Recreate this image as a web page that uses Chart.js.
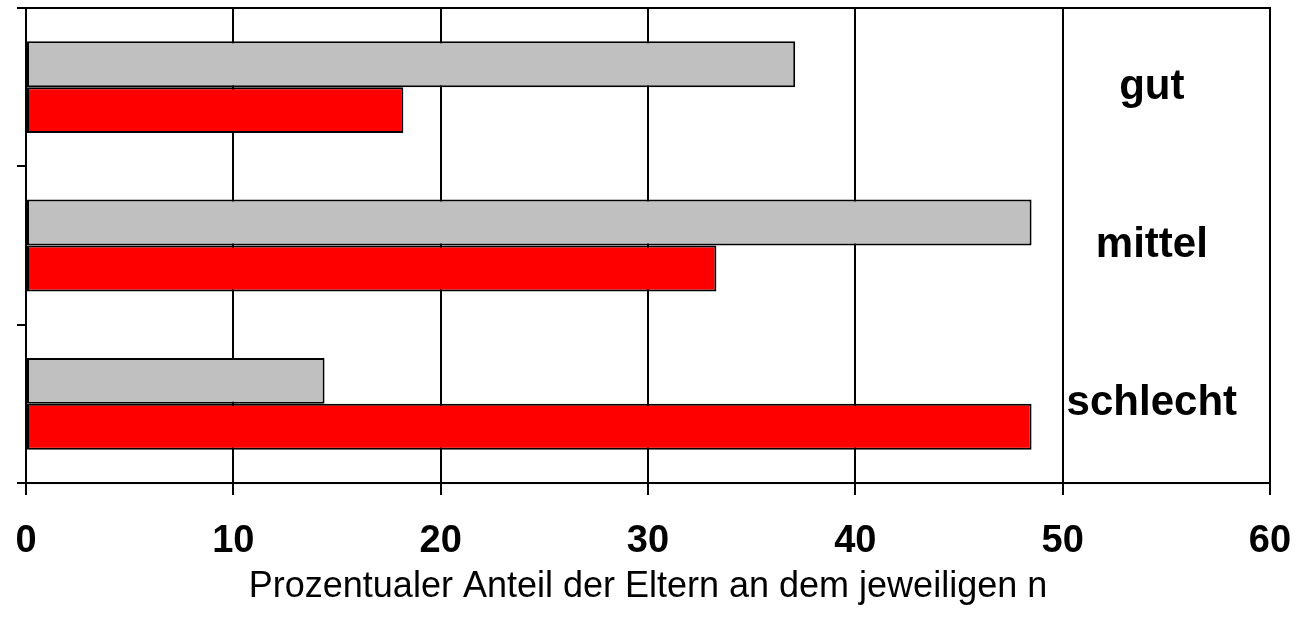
<!DOCTYPE html>
<html>
<head>
<meta charset="utf-8">
<script src="https://cdn.jsdelivr.net/npm/chart.js@4"></script>
<style>
  html, body { margin: 0; padding: 0; background: #ffffff; }
  #wrap { width: 1298px; height: 619px; }
</style>
</head>
<body>
<div id="wrap"><canvas id="c" width="1298" height="619"></canvas></div>
<script>
const categories = ["gut", "mittel", "schlecht"];
const seriesGray = [37.1, 48.5, 14.4];
const seriesRed = [18.2, 33.3, 48.5];
const xTicks = [0, 10, 20, 30, 40, 50, 60];
const xTitle = "Prozentualer Anteil der Eltern an dem jeweiligen n";
const labelXValue = 54.3;

const FONT = "'Liberation Sans', Arial, Helvetica, sans-serif";

const framePlugin = {
  id: 'frame',
  afterDatasetsDraw(chart) {
    const { ctx, chartArea: a, scales } = chart;
    ctx.save();
    ctx.strokeStyle = '#000';
    ctx.lineWidth = 2;
    ctx.strokeRect(a.left, a.top, a.right - a.left, a.bottom - a.top);
    ctx.fillStyle = '#000';
    ctx.font = "bold 42px " + FONT;
    ctx.textAlign = 'center';
    ctx.textBaseline = 'middle';
    const x = scales.x.getPixelForValue(labelXValue);
    categories.forEach((c, i) => {
      ctx.fillText(c, x, scales.y.getPixelForValue(i));
    });
    ctx.restore();
  }
};

new Chart(document.getElementById('c'), {
  type: 'bar',
  data: {
    labels: categories,
    datasets: [
      { data: seriesGray, backgroundColor: '#C0C0C0', borderColor: '#000', borderWidth: 2, borderSkipped: false },
      { data: seriesRed, backgroundColor: '#FF0000', borderColor: '#000', borderWidth: 2, borderSkipped: false }
    ]
  },
  options: {
    indexAxis: 'y',
    responsive: false,
    animation: false,
    devicePixelRatio: 1,
    layout: { padding: { left: 17, right: 28, top: 8, bottom: 10 } },
    plugins: { legend: { display: false }, tooltip: { enabled: false } },
    datasets: { bar: { categoryPercentage: 0.58, barPercentage: 1.0 } },
    scales: {
      x: {
        type: 'linear',
        min: 0, max: 60,
        afterBuildTicks(scale) { scale.ticks = xTicks.map(v => ({ value: v })); },
        grid: { color: '#000', lineWidth: 2, tickLength: 12, drawOnChartArea: true },
        border: { color: '#000', width: 2 },
        ticks: { color: '#000', padding: 0, font: { family: FONT, size: 38, weight: 'bold', lineHeight: 2.42 }, maxRotation: 0 },
        title: { display: true, text: xTitle, color: '#000', padding: { top: -21.2, bottom: 0 }, font: { family: FONT, size: 36 } }
      },
      y: {
        type: 'category',
        offset: true,
        grid: { offset: true, color: '#000', lineWidth: 2, tickLength: 9, drawOnChartArea: false },
        border: { color: '#000', width: 2 },
        ticks: { display: false }
      }
    }
  },
  plugins: [framePlugin]
});
</script>
</body>
</html>
